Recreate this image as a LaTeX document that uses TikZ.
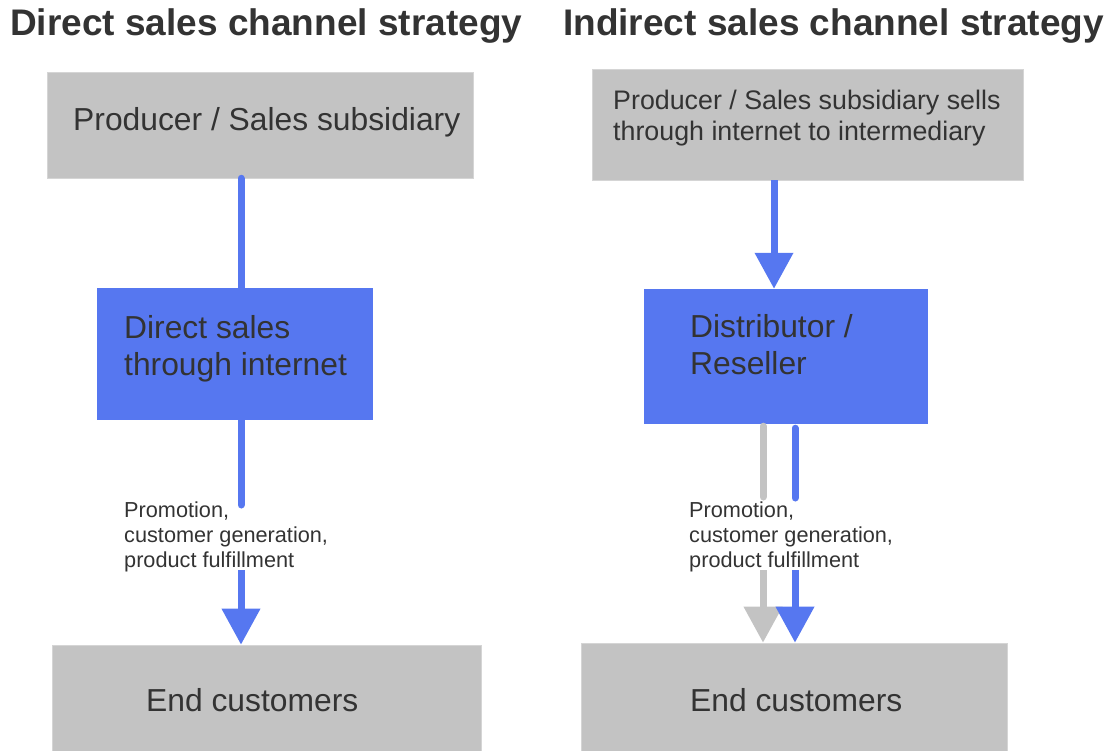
\documentclass[tikz,border=0pt]{standalone}
\usepackage{fontspec}
\setmainfont{Liberation Sans}
\usetikzlibrary{arrows.meta}
\definecolor{boxgray}{HTML}{C3C3C3}
\definecolor{chblue}{HTML}{5677F0}
\definecolor{txt}{HTML}{333333}
\begin{document}
\begin{tikzpicture}[x=1pt,y=-1pt,
  graybox/.style={rectangle, fill=boxgray, draw=boxgray!70!white, line width=0.6pt, inner sep=0pt},
  bluebox/.style={rectangle, fill=chblue, inner sep=0pt},
  conn/.style={line width=7pt, line cap=round, draw=chblue},
  arr/.style={line width=7pt, draw=chblue, fill=chblue, -{Triangle[width=37pt,length=36pt]}},
  garr/.style={arr, draw=boxgray, fill=boxgray},
  gconn/.style={conn, draw=boxgray},
  ttl/.style={anchor=base west, inner sep=0pt, text=txt, font=\fontsize{37}{44}\selectfont\bfseries},
  bigtext/.style={anchor=base west, inner sep=0pt, text=txt, font=\fontsize{31.8}{38}\selectfont},
  midtext/.style={anchor=base west, inner sep=0pt, text=txt, font=\fontsize{26.8}{32}\selectfont},
  smalltext/.style={anchor=base west, inner sep=0pt, text=txt, font=\fontsize{21.7}{26}\selectfont}]
\useasboundingbox (0,0) rectangle (1118,751);

% titles
\node[ttl] (t1) at (10,36) {Direct sales channel strategy};
\node[ttl] (t2) at (563,36) {Indirect sales channel strategy};

% left column boxes
\node[graybox, minimum width=426pt, minimum height=106pt] (p1) at (260,125) {};
\node[bluebox, minimum width=276pt, minimum height=132pt] (d1) at (235,354) {};
\node[graybox, minimum width=429pt, minimum height=106pt] (e1) at (266.5,698) {};

% right column boxes
\node[graybox, minimum width=431pt, minimum height=111pt] (p2) at (807.5,124.5) {};
\node[bluebox, minimum width=284pt, minimum height=135pt] (d2) at (786,356.5) {};
\node[graybox, minimum width=426pt, minimum height=108pt] (e2) at (794,697) {};

% box texts
\node[bigtext] (p1a) at (73,131) {Producer / Sales subsidiary};
\node[midtext] (p2a) at (613,110) {Producer / Sales subsidiary sells};
\node[midtext] (p2b) at (613,141) {through internet to intermediary};
\node[bigtext] (d1a) at (124,338) {Direct sales};
\node[bigtext] (d1b) at (124,375) {through internet};
\node[bigtext] (d2a) at (690,337) {Distributor /};
\node[bigtext] (d2b) at (690,374) {Reseller};
\node[bigtext] (e1a) at (146,711) {End customers};
\node[bigtext] (e2a) at (690,711) {End customers};

% labels
\node[smalltext] (l1a) at (124,517) {Promotion,};
\node[smalltext] (l1b) at (124,542) {customer generation,};
\node[smalltext] (l1c) at (124,567) {product fulfillment};
\node[smalltext] (l2a) at (689,517) {Promotion,};
\node[smalltext] (l2b) at (689,542) {customer generation,};
\node[smalltext] (l2c) at (689,567) {product fulfillment};

% connector end points
\coordinate (x1) at (241,0);
\coordinate (x2) at (774,0);
\coordinate (xg) at (763,0);
\coordinate (xb) at (795,0);
\coordinate (c1end) at (241,505);
\coordinate (c1start) at (241,570);
\coordinate (cgend) at (763,497);
\coordinate (cbend) at (795,498);
\coordinate (cgstart) at (763,570);
\coordinate (cbstart) at (795,570);

% left connectors
\draw[conn] (p1.south -| x1) -- (d1.north -| x1);
\draw[conn] (d1.south -| x1) -- (c1end);
\draw[arr] (c1start) -- (e1.north -| x1);

% right connectors
\draw[arr] (p2.south -| x2) -- (d2.north -| x2);
\draw[gconn] ([yshift=-2pt]d2.south -| xg) -- (cgend);
\draw[conn] ([yshift=-4pt]d2.south -| xb) -- (cbend);
\draw[garr] (cgstart) -- (e2.north -| xg);
\draw[arr] (cbstart) -- (e2.north -| xb);
\end{tikzpicture}
\end{document}
